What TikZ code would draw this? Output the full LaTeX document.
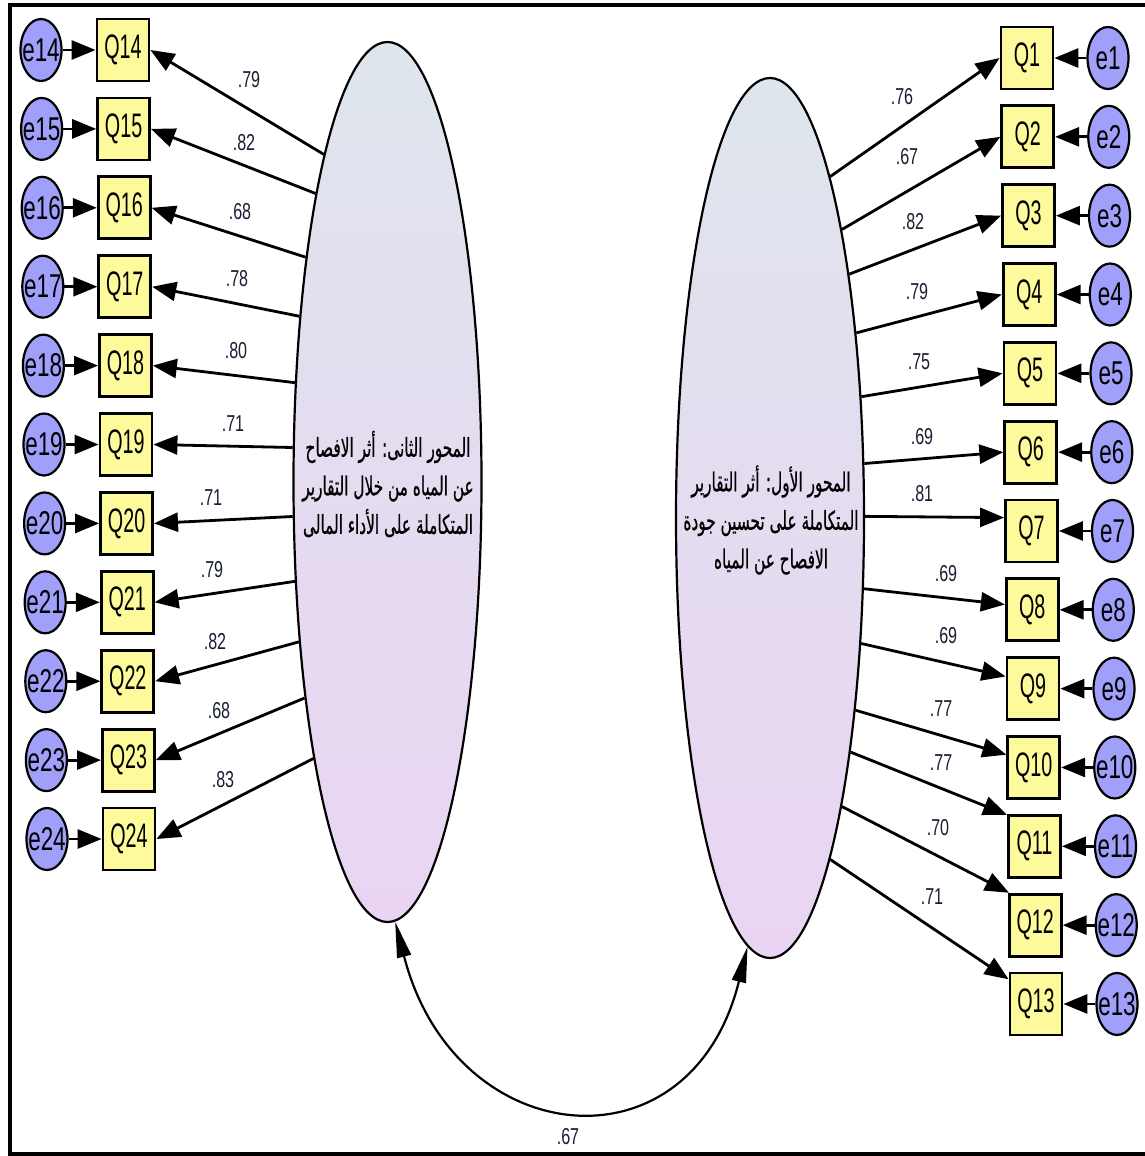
\documentclass[tikz,border=0pt]{standalone}
\usepackage{fontspec}
\setmainfont{Liberation Sans}
\newfontfamily\qfont[FakeStretch=0.58]{Liberation Sans}
\newfontfamily\efont[FakeStretch=0.68]{Liberation Sans}
\newfontfamily\lfont[FakeStretch=0.7]{Liberation Sans}
\newfontfamily\arabicfont[Script=Arabic,FakeStretch=0.59,FakeBold=0.6]{DejaVu Sans}
\usetikzlibrary{shapes.geometric,arrows.meta}
\TeXXeTstate=1
\newcommand\zw[1]{\makebox[0pt]{#1}}
\definecolor{qyellow}{RGB}{252,250,155}
\definecolor{eblue}{RGB}{160,160,250}
\definecolor{ltop}{RGB}{222,230,236}
\definecolor{lbot}{RGB}{233,213,243}
\definecolor{labcol}{RGB}{25,30,50}
\begin{document}
\begin{tikzpicture}[x=1pt,y=-1pt,
  box/.style={draw, line width=2.8pt, fill=qyellow, minimum width=52pt, minimum height=62pt, inner sep=0pt, font=\qfont\fontsize{34}{34}\selectfont},
  err/.style={ellipse, draw, line width=2.2pt, fill=eblue, minimum width=41pt, minimum height=62pt, inner sep=0pt, font=\efont\fontsize{33}{33}\selectfont},
  factor/.style={ellipse, draw, line width=2.2pt, top color=ltop, bottom color=lbot, middle color=lbot!60!ltop, minimum width=188pt, minimum height=880pt, inner sep=0pt},
  atext/.style={align=center, inner sep=0pt, font=\arabicfont\fontsize{26}{38.5}\selectfont},
  con/.style={line width=2.8pt, -{Triangle[length=24pt,width=19pt]}},
  cov/.style={line width=2.2pt, {Triangle[length=36pt,width=14pt]}-{Triangle[length=36pt,width=14pt]}},
  lab/.style={inner sep=0pt, text=labcol, font=\lfont\fontsize{23}{23}\selectfont}]
\useasboundingbox (0,0) rectangle (1145,1156);
\fill[white] (0,0) rectangle (1145,1156);
\draw[line width=4pt] (1160,5) -- (10,5) -- (10,1154) -- (1160,1154);

% factors
\node[factor] (L) at (387.5,482) {};
\node[factor] (R) at (770,518) {};
\node[atext] (Ltext) at (388,484) {\beginR المحور الثانى: أثر الافصاح\endR\\ \beginR عن المياه من خلال التقارير\endR\\ \beginR المتكاملة على الأداء المالى\endR};
\node[atext] (Rtext) at (771,520) {\beginR المحور الأول: أثر التقارير\endR\\ \beginR المتكاملة على تحسين جودة\endR\\ \beginR الافصاح عن المياه\endR};

% left items Q14..Q24
\foreach \n/\a [count=\k from 0] in {14/101.2,15/104.9,16/110.2,17/118.6,18/133.4,19/160.2,20/200.5,21/227.2,22/241.7,23/249.5,24/255.2}{
  \node[box] (Q\n) at ({123+0.6*\k},{50+78.9*\k}) {Q\n};
  \node[err] (e\n) at ({41+0.6*\k},{50+78.9*\k}) {\zw{e\n}};
  \draw[con] (e\n) -- (Q\n);
  \draw[con] (L.\a) -- (Q\n.east);
}
% right items Q1..Q13
\foreach \n/\a/\b [count=\k from 0] in {1/80.4/180,2/76.9/180,3/72.5/180,4/65.3/180,5/53.4/180,6/30.6/180,7/1.2/154.3,8/-37.4/169.9,9/-54.5/156.8,10/-66.4/155,11/-71.6/131,12/-76.1/129,13/-80.0/138.4}{
  \node[box] (Q\n) at ({1027+0.75*\k},{58+78.83*\k}) {Q\n};
  \node[err] (e\n) at ({1108+0.75*\k},{58+78.83*\k}) {\zw{e\n}};
  \draw[con] (e\n) -- (Q\n);
  \draw[con] (R.\a) -- (Q\n.\b);
}

% loading labels left
\node[lab] (l14) at (249,80) {.79};
\node[lab] (l15) at (244,143) {.82};
\node[lab] (l16) at (240,212) {.68};
\node[lab] (l17) at (237,279) {.78};
\node[lab] (l18) at (236,351) {.80};
\node[lab] (l19) at (233,424) {.71};
\node[lab] (l20) at (211,498) {.71};
\node[lab] (l21) at (212,570) {.79};
\node[lab] (l22) at (215,642) {.82};
\node[lab] (l23) at (219,711) {.68};
\node[lab] (l24) at (223,780) {.83};
% loading labels right
\node[lab] (l1) at (902,97) {.76};
\node[lab] (l2) at (907,157) {.67};
\node[lab] (l3) at (913,222) {.82};
\node[lab] (l4) at (917,292) {.79};
\node[lab] (l5) at (919,362) {.75};
\node[lab] (l6) at (922,437) {.69};
\node[lab] (l7) at (922,494) {.81};
\node[lab] (l8) at (946,574) {.69};
\node[lab] (l9) at (946,636) {.69};
\node[lab] (l10) at (941,709) {.77};
\node[lab] (l11) at (941,763) {.77};
\node[lab] (l12) at (938,828) {.70};
\node[lab] (l13) at (932,897) {.71};

% covariance
\draw[cov] (L.271.6) .. controls +(59,230) and +(-57,230) .. (R.267.6);
\node[lab] (lc) at (568,1137) {.67};
\end{tikzpicture}
\end{document}
